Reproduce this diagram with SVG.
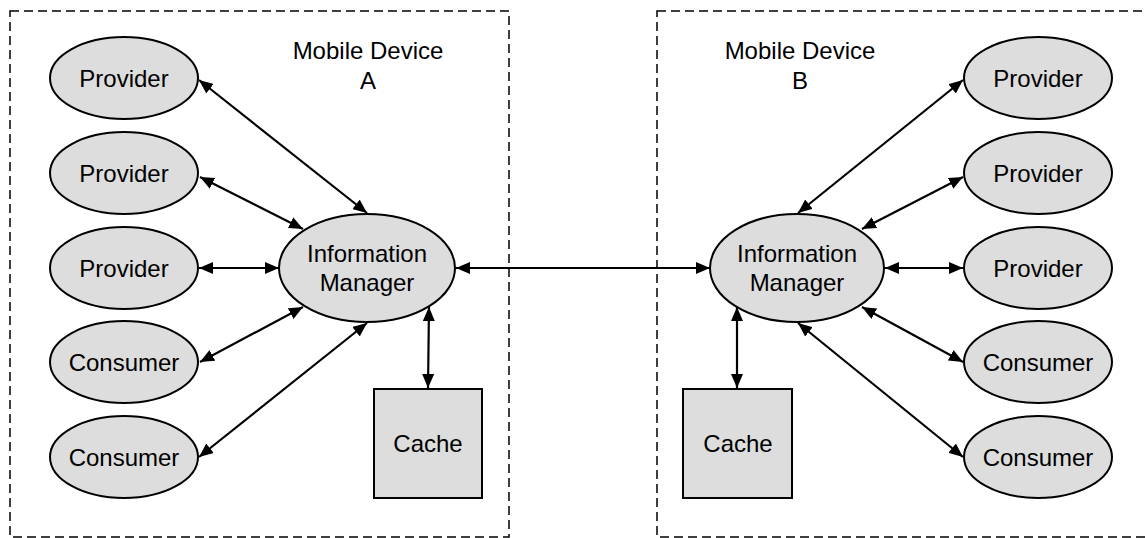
<svg xmlns="http://www.w3.org/2000/svg" width="1147" height="538" viewBox="0 0 1147 538">
  <defs>
    <marker id="arrow" viewBox="0 0 14 12" refX="14" refY="6" markerWidth="14" markerHeight="12" markerUnits="userSpaceOnUse" orient="auto-start-reverse">
      <path d="M0,0 L14,6 L0,12 Z" fill="#000"/>
    </marker>
  </defs>
  <style>
    .device { fill: none; stroke: #000; stroke-width: 1.5; stroke-dasharray: 9 5; }
    .node { fill: #dddddd; stroke: #000; stroke-width: 2; }
    .label { font-family: "Liberation Sans", Arial, sans-serif; font-size: 24px; fill: #000; text-anchor: middle; }
    .link { fill: none; stroke: #000; stroke-width: 2.2; marker-start: url(#arrow); marker-end: url(#arrow); }
  </style>
  <rect width="1147" height="538" fill="#fff"/>

  <!-- device boundaries -->
  <g id="device-a">
    <rect class="device" x="10" y="11" width="499" height="526"/>
    <text class="label" x="368" y="59">Mobile Device</text>
    <text class="label" x="368" y="89">A</text>
  </g>
  <g id="device-b">
    <rect class="device" x="657" y="11" width="520" height="526"/>
    <text class="label" x="800" y="59">Mobile Device</text>
    <text class="label" x="800" y="89">B</text>
  </g>

  <!-- device A nodes -->
  <g id="a-provider-1"><ellipse class="node" cx="124" cy="78" rx="74" ry="41"/><text class="label" x="124" y="87">Provider</text></g>
  <g id="a-provider-2"><ellipse class="node" cx="124" cy="173" rx="74" ry="41"/><text class="label" x="124" y="182">Provider</text></g>
  <g id="a-provider-3"><ellipse class="node" cx="124" cy="268" rx="74" ry="41"/><text class="label" x="124" y="277">Provider</text></g>
  <g id="a-consumer-1"><ellipse class="node" cx="124" cy="362" rx="74" ry="41"/><text class="label" x="124" y="371">Consumer</text></g>
  <g id="a-consumer-2"><ellipse class="node" cx="124" cy="457" rx="74" ry="41"/><text class="label" x="124" y="466">Consumer</text></g>
  <g id="a-manager"><ellipse class="node" cx="367" cy="268" rx="88" ry="54"/><text class="label" x="367" y="262">Information</text><text class="label" x="367" y="291">Manager</text></g>
  <g id="a-cache"><rect class="node" x="374" y="389" width="108" height="109"/><text class="label" x="428" y="452">Cache</text></g>

  <!-- device B nodes -->
  <g id="b-provider-1"><ellipse class="node" cx="1038" cy="78" rx="74" ry="41"/><text class="label" x="1038" y="87">Provider</text></g>
  <g id="b-provider-2"><ellipse class="node" cx="1038" cy="173" rx="74" ry="41"/><text class="label" x="1038" y="182">Provider</text></g>
  <g id="b-provider-3"><ellipse class="node" cx="1038" cy="268" rx="74" ry="41"/><text class="label" x="1038" y="277">Provider</text></g>
  <g id="b-consumer-1"><ellipse class="node" cx="1038" cy="362" rx="74" ry="41"/><text class="label" x="1038" y="371">Consumer</text></g>
  <g id="b-consumer-2"><ellipse class="node" cx="1038" cy="457" rx="74" ry="41"/><text class="label" x="1038" y="466">Consumer</text></g>
  <g id="b-manager"><ellipse class="node" cx="797" cy="268" rx="87" ry="54"/><text class="label" x="797" y="262">Information</text><text class="label" x="797" y="291">Manager</text></g>
  <g id="b-cache"><rect class="node" x="683" y="389" width="109" height="109"/><text class="label" x="738" y="452">Cache</text></g>

  <!-- two-way links -->
  <g id="connectors">
    <line class="link" x1="199" y1="80" x2="367" y2="213"/>
    <line class="link" x1="200" y1="177" x2="303" y2="229"/>
    <line class="link" x1="199" y1="268" x2="279" y2="268"/>
    <line class="link" x1="200" y1="362" x2="303" y2="307"/>
    <line class="link" x1="199" y1="457" x2="367" y2="323"/>
    <line class="link" x1="429" y1="307" x2="428" y2="388"/>
    <line class="link" x1="456" y1="268" x2="710" y2="268"/>
    <line class="link" x1="798" y1="213" x2="963" y2="80"/>
    <line class="link" x1="862" y1="229" x2="963" y2="177"/>
    <line class="link" x1="885" y1="268" x2="963" y2="268"/>
    <line class="link" x1="862" y1="307" x2="963" y2="362"/>
    <line class="link" x1="798" y1="323" x2="963" y2="457"/>
    <line class="link" x1="737" y1="307" x2="737" y2="388"/>
  </g>
</svg>
